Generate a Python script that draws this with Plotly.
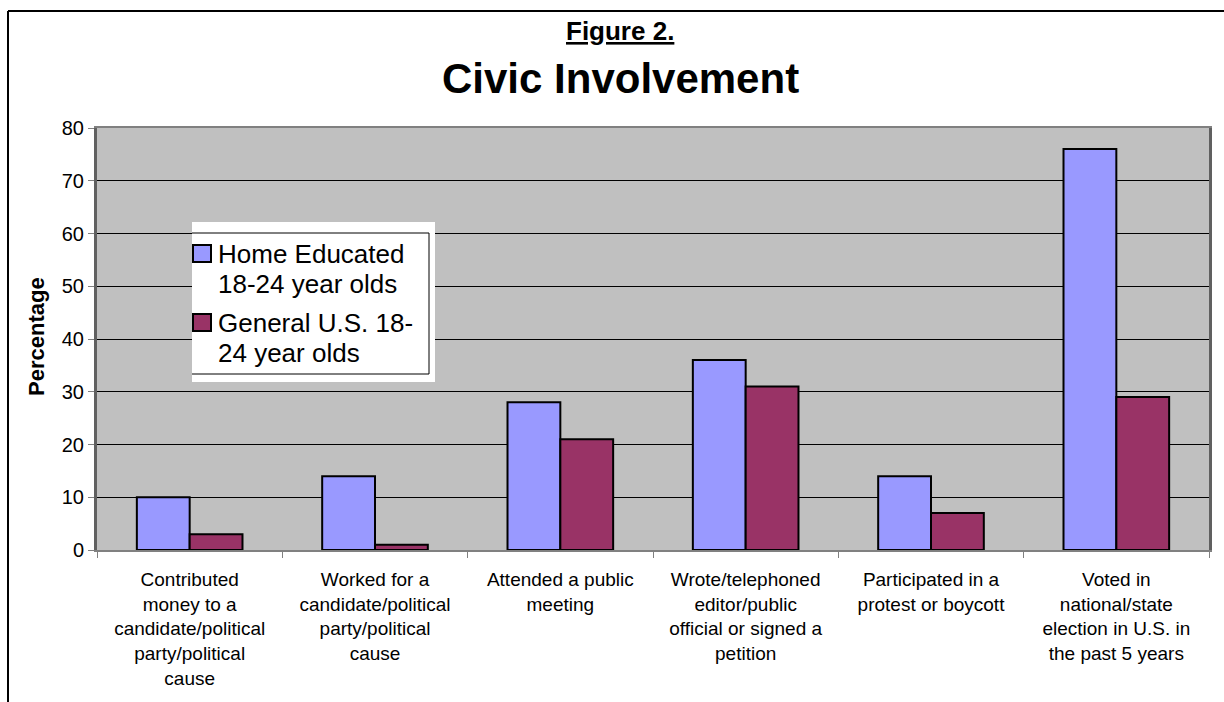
import plotly.graph_objects as go

categories = [
    "Contributed<br>money to a<br>candidate/political<br>party/political<br>cause",
    "Worked for a<br>candidate/political<br>party/political<br>cause",
    "Attended a public<br>meeting",
    "Wrote/telephoned<br>editor/public<br>official or signed a<br>petition",
    "Participated in a<br>protest or boycott",
    "Voted in<br>national/state<br>election in U.S. in<br>the past 5 years",
]
home_educated = [10, 14, 28, 36, 14, 76]
general_us = [3, 1, 21, 31, 7, 29]
series_names = ["Home Educated<br>18-24 year olds", "General U.S. 18-<br>24 year olds"]
series_colors = ["#9999FF", "#993366"]
y_ticks = [0, 10, 20, 30, 40, 50, 60, 70, 80]

FONT = "Liberation Sans, Arial, sans-serif"

fig = go.Figure()
for name, vals, col in zip(series_names, [home_educated, general_us], series_colors):
    fig.add_trace(go.Bar(x=categories, y=vals, name=name, showlegend=False,
                         marker=dict(color=col, line=dict(color="black", width=2))))

L, R, T, B = 97, 15, 128, 152
W, H = 1224, 702
pw, ph = W - L - R, H - T - B

def px(x):
    return (x - L) / pw

def py(y):
    return (H - B - y) / ph

annotations = [
    dict(text="<b><u>Figure 2.</u></b>", xref="paper", yref="paper",
         x=px(620), y=py(31), xanchor="center", yanchor="middle", showarrow=False,
         font=dict(size=26, family=FONT)),
    dict(text="<b>Civic Involvement</b>", xref="paper", yref="paper",
         x=px(620), y=py(78), xanchor="center", yanchor="middle", showarrow=False,
         font=dict(size=42, family=FONT)),
    dict(text="<b>Percentage</b>", xref="paper", yref="paper",
         x=px(36), y=py(337), xanchor="center", yanchor="middle", showarrow=False,
         textangle=-90, font=dict(size=22, family=FONT)),
]

def pline(x0, y0, x1, y1, color="black", width=2):
    return dict(type="line", xref="paper", yref="paper", x0=px(x0), x1=px(x1),
                y0=py(y0), y1=py(y1), line=dict(color=color, width=width), layer="above")

shapes = [
    pline(8, 11, 1230, 11),
    pline(8, 11, 8, 710),
    # legend box
    dict(type="rect", xref="paper", yref="paper", x0=px(192), x1=px(435),
         y0=py(382), y1=py(222), fillcolor="white", line=dict(width=0), layer="above"),
    pline(192, 233, 429, 233, width=1),
    pline(429, 233, 429, 374, width=1),
    pline(192, 374, 429, 374, width=1),
]

# legend entries
entry_top = [245, 314]
for i, (name, col) in enumerate(zip(series_names, series_colors)):
    top = entry_top[i]
    shapes.append(dict(type="rect", xref="paper", yref="paper", x0=px(193), x1=px(211),
                       y0=py(top + 17), y1=py(top), fillcolor=col,
                       line=dict(color="black", width=2), layer="above"))
    for j, line in enumerate(name.split("<br>")):
        annotations.append(dict(text=line, xref="paper", yref="paper",
                                x=px(216), y=py(top + 9 + 30 * j), xanchor="left",
                                yanchor="middle", showarrow=False,
                                font=dict(size=26, family=FONT)))

fig.update_layout(
    width=W, height=H,
    margin=dict(l=L, r=R, t=T, b=B),
    paper_bgcolor="white",
    plot_bgcolor="#C0C0C0",
    barmode="group",
    bargap=0.43,
    bargroupgap=0,
    font=dict(family=FONT, color="black", size=19),
    showlegend=False,
    xaxis=dict(
        showgrid=False, ticks="outside", tickson="boundaries", ticklen=6,
        tickcolor="#808080", showline=True, linecolor="#808080", linewidth=2,
        mirror=True, tickfont=dict(size=19, family=FONT), tickangle=0,
        ticklabelstandoff=11,
    ),
    yaxis=dict(
        range=[0, 80], tickvals=y_ticks, showgrid=True, gridcolor="black", gridwidth=1,
        ticks="outside", ticklen=6, tickcolor="#808080", showline=True,
        linecolor="#606060", linewidth=3, mirror=True,
        tickfont=dict(size=20, family=FONT), zeroline=False,
    ),
    annotations=annotations,
    shapes=shapes,
)

fig.write_html("out.html")
